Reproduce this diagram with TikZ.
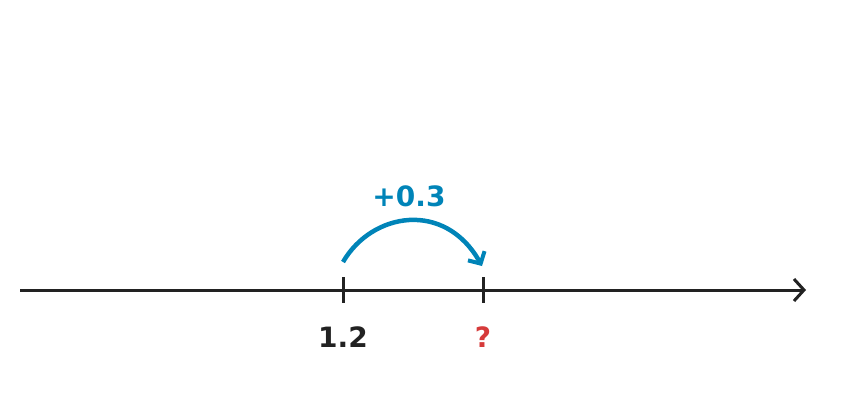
\documentclass[tikz,border=0pt]{standalone}
\usepackage{fontspec}
\setmainfont{DejaVu Sans}
\usetikzlibrary{arrows.meta}
\definecolor{axisblack}{HTML}{222222}
\definecolor{jumpblue}{HTML}{0084B8}
\definecolor{qred}{HTML}{D63A3A}
\tikzset{
  axis/.style={draw=axisblack, line width=3pt, -{Straight Barb[length=10pt,width=22pt,line width=3pt]}},
  tick/.style={draw=axisblack, line width=3pt},
  jump/.style={draw=jumpblue, line width=4.5pt, -{Straight Barb[length=9pt,width=19pt,line width=4pt]}},
  lbl/.style={font=\fontsize{28}{33}\selectfont\bfseries, inner sep=0pt}
}
\begin{document}
\begin{tikzpicture}[x=1pt,y=-1pt]
\useasboundingbox (0,0) rectangle (864,416);
\coordinate (L) at (20,290);
\coordinate (R) at (806,290);
\coordinate (A) at (343,290);
\coordinate (B) at (483,290);
\coordinate (At) at (343,277);
\coordinate (Ab) at (343,303);
\coordinate (Bt) at (483,277);
\coordinate (Bb) at (483,303);
\coordinate (S) at (343,262);
\coordinate (E) at (482,266);
\draw[axis] (L) -- (R);
\draw[tick] (At) -- (Ab);
\draw[tick] (Bt) -- (Bb);
\draw[jump] (S) .. controls (372,212) and (445,200) .. (E);
\node[lbl, text=axisblack] (la) at (343,337) {1.2};
\node[lbl, text=qred] (lb) at (483,337) {?};
\node[lbl, text=jumpblue] (lj) at (409,196) {+0.3};
\end{tikzpicture}
\end{document}
